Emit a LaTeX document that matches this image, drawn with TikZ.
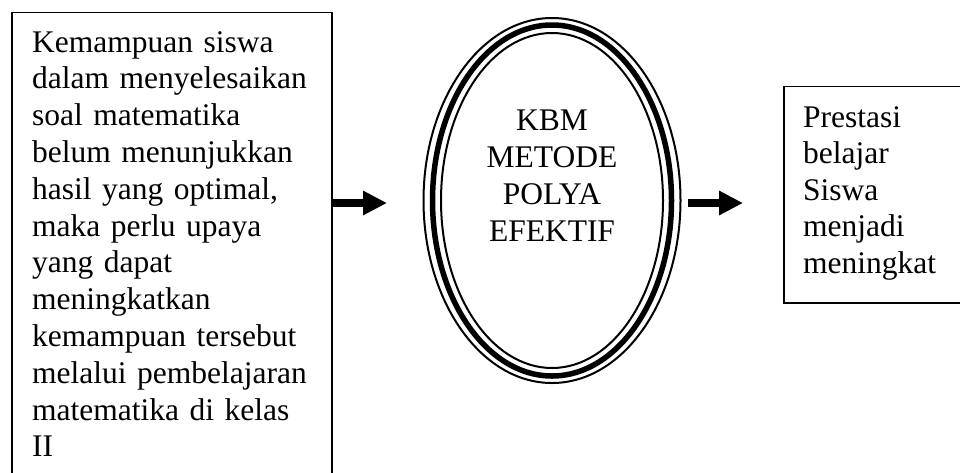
\documentclass[tikz,border=0pt]{standalone}
\usepackage{fontspec}
\setmainfont{Liberation Serif}
\usetikzlibrary{arrows.meta,shapes.geometric}
\begin{document}
\begin{tikzpicture}[x=1pt,y=-1pt,
  boxline/.style={draw=black,line width=1.6pt,inner sep=0pt},
  txt/.style={inner sep=0pt,align=left,anchor=base west},
  bigarrow/.style={line width=8pt,-{Triangle[length=24pt,width=23pt]}}]
\useasboundingbox (0,0) rectangle (960,472);
% left box
\node[boxline,minimum width=320pt,minimum height=480pt,anchor=north west] (left) at (11,11.5) {};
\node[txt,text width=300pt,font={\fontsize{31.5}{36.8}\selectfont}] (lefttext) at (32,52)
  {Kemampuan siswa\\
   dalam menyelesaikan\\
   soal matematika\\
   belum menunjukkan\\
   hasil yang optimal,\\
   maka perlu upaya\\
   yang dapat\\
   meningkatkan\\
   kemampuan tersebut\\
   melalui pembelajaran\\
   matematika di kelas\\
   II};
% ellipse (thin - thick - thin)
\node[ellipse,draw,line width=2pt,inner sep=0pt,minimum width=257pt,minimum height=365pt] (ell) at (552,200.5) {};
\draw[line width=5.5pt] (ell.center) ellipse [x radius=119.5, y radius=175.5];
\draw[line width=2pt] (ell.center) ellipse [x radius=111, y radius=167.5];
\node[inner sep=0pt,text width=220pt,align=center,anchor=base,font={\fontsize{31.5}{37.3}\selectfont}] (elltext) at (552,130)
  {KBM\\METODE\\POLYA\\EFEKTIF};
% right box
\node[boxline,minimum width=200pt,minimum height=216.5pt,anchor=north west] (right) at (783,85.5) {};
\node[txt,text width=150pt,font={\fontsize{31.5}{36.5}\selectfont}] (righttext) at (803,127)
  {Prestasi\\belajar\\Siswa\\menjadi\\meningkat};
% arrows
\coordinate (a1s) at (332,203);
\coordinate (a1e) at (387,203);
\coordinate (a2s) at (688,203);
\coordinate (a2e) at (743,203);
\draw[bigarrow] (a1s) -- (a1e);
\draw[bigarrow] (a2s) -- (a2e);
\end{tikzpicture}
\end{document}
